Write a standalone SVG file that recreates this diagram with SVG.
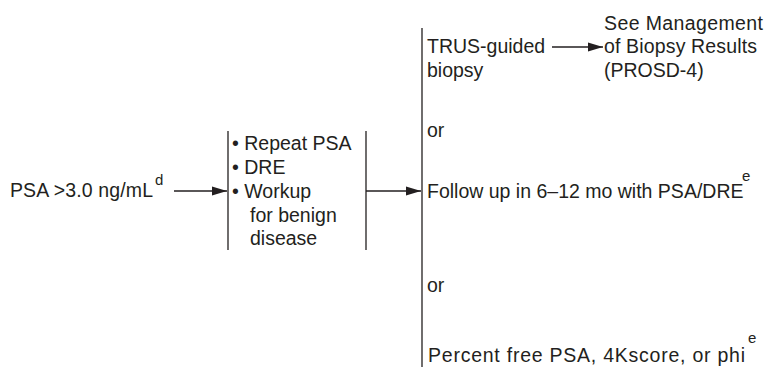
<svg xmlns="http://www.w3.org/2000/svg" width="766" height="368" viewBox="0 0 766 368">
<style>
text{font-family:"Liberation Sans",Arial,sans-serif;font-size:19.5px;fill:#231f20}
.sup{font-size:15px}
.ln{stroke:#231f20;stroke-width:1.3;fill:none}
</style>
<defs>
<marker id="ah" markerWidth="15" markerHeight="10" refX="15" refY="5" orient="auto" markerUnits="userSpaceOnUse">
<path d="M0,0.5 L15,5 L0,9.5 Z" fill="#231f20"/>
</marker>
</defs>
<rect width="766" height="368" fill="#fff"/>
<g id="start">
<text x="10" y="197" textLength="143" lengthAdjust="spacing">PSA &gt;3.0 ng/mL</text>
<text class="sup" x="155" y="185">d</text>
</g>
<g id="workup">
<line class="ln" x1="228" y1="131" x2="228" y2="250"/>
<line class="ln" x1="366" y1="131" x2="366" y2="250"/>
<text x="232" y="150">• Repeat PSA</text>
<text x="232" y="174">• DRE</text>
<text x="232" y="198">• Workup</text>
<text x="250" y="222">for benign</text>
<text x="250" y="245">disease</text>
</g>
<g id="options">
<line class="ln" x1="422" y1="28" x2="422" y2="367"/>
<text x="427" y="53">TRUS-guided</text>
<text x="427" y="77">biopsy</text>
<text x="427" y="137">or</text>
<text x="427" y="198">Follow up in 6–12 mo with PSA/DRE</text>
<text class="sup" x="742" y="181">e</text>
<text x="427" y="292">or</text>
<text x="428" y="362" textLength="317" lengthAdjust="spacing">Percent free PSA, 4Kscore, or phi</text>
<text class="sup" x="748" y="343">e</text>
</g>
<g id="results">
<text x="604" y="30" textLength="159" lengthAdjust="spacing">See Management</text>
<text x="604" y="53" textLength="153" lengthAdjust="spacing">of Biopsy Results</text>
<text x="604" y="77">(PROSD-4)</text>
</g>
<g id="connectors">
<line class="ln" x1="174" y1="191" x2="227" y2="191" marker-end="url(#ah)"/>
<line class="ln" x1="366" y1="191" x2="421" y2="191" marker-end="url(#ah)"/>
<line class="ln" x1="552" y1="47" x2="603" y2="47" marker-end="url(#ah)"/>
</g>
</svg>
